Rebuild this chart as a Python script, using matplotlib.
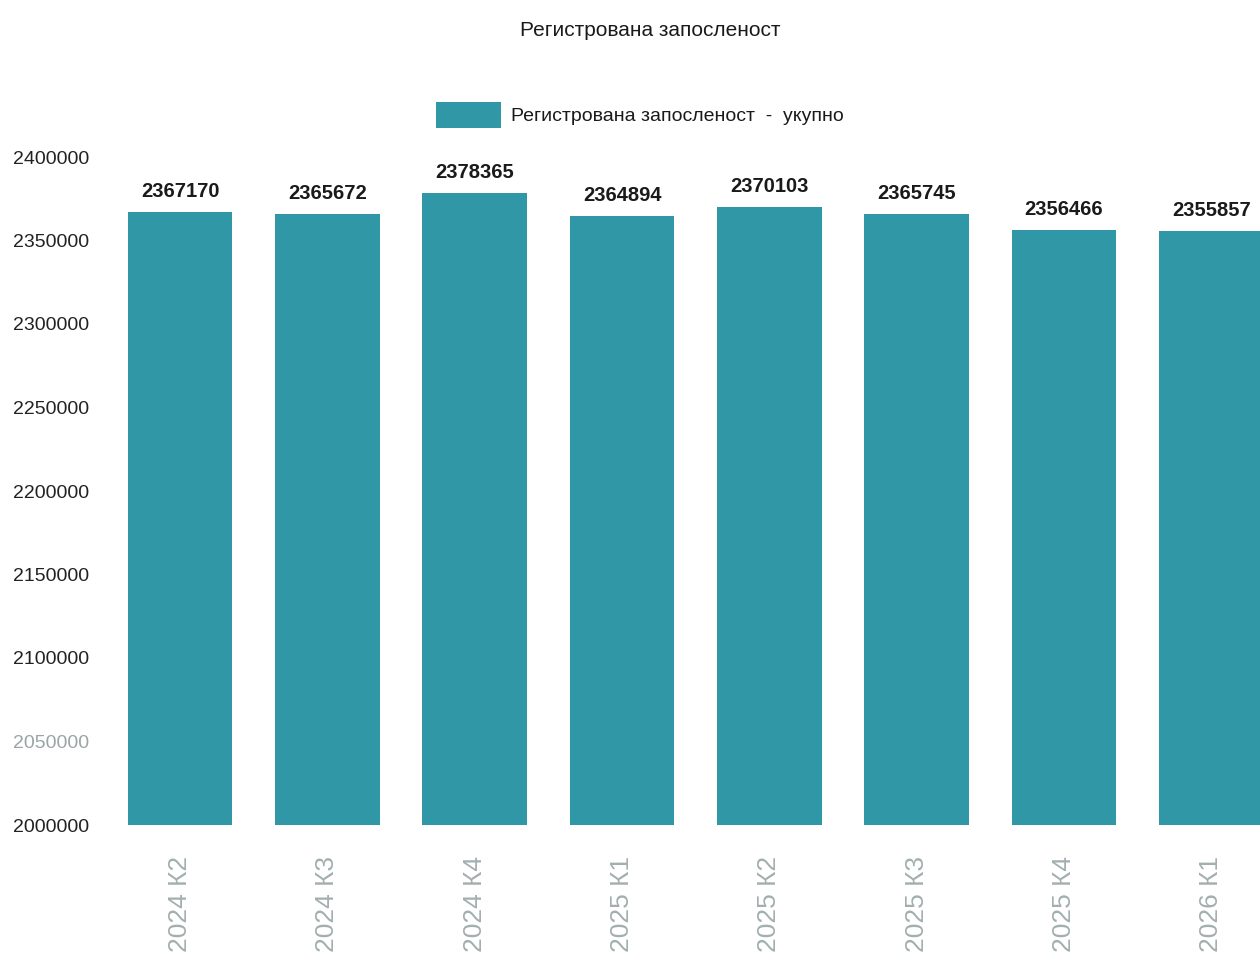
import matplotlib
matplotlib.use("Agg")
import matplotlib.pyplot as plt
import numpy as np

categories = ["2024 К2", "2024 К3", "2024 К4", "2025 К1",
              "2025 К2", "2025 К3", "2025 К4", "2026 К1"]
values = [2367170, 2365672, 2378365, 2364894,
          2370103, 2365745, 2356466, 2355857]
y_ticks = [2000000, 2050000, 2100000, 2150000,
           2200000, 2250000, 2300000, 2350000, 2400000]

title = "Регистрована запосленост"
series_name = "Регистрована запосленост  -  укупно"

bar_color = "#2f97a5"
plt.rcParams["font.family"] = ["Liberation Sans", "DejaVu Sans"]

fig = plt.figure(figsize=(12.6, 9.64), dpi=100)
ax = fig.add_axes([100 / 1260, (964 - 825) / 964, 1160 / 1260, 668 / 964])

x = np.arange(len(categories))
bars = ax.bar(x, values, width=0.71, color=bar_color, label=series_name)

ax.set_ylim(2000000, 2400000)
ax.set_xlim(-0.543, 7.33)
ax.set_yticks(y_ticks)
ax.set_yticklabels([str(v) for v in y_ticks], fontsize=14, color="#222222")
ax.get_yticklabels()[1].set_color("#9aa5a5")
ax.tick_params(axis="y", length=0, pad=8)

ax.set_xticks(x)
ax.set_xticklabels(categories, rotation=90, fontsize=19, color="#a3afaf")
ax.tick_params(axis="x", length=0, pad=22)

for s in ax.spines.values():
    s.set_visible(False)

for xi, v in zip(x, values):
    ax.annotate(str(v), (xi, v), xytext=(0, 8), textcoords="offset points",
                ha="center", va="bottom", fontsize=14.5, fontweight="bold",
                color="#1a1a1a", annotation_clip=False)

fig.text(650 / 1260, 1 - 30 / 964, title, ha="center", va="center",
         fontsize=15, color="#1a1a1a")

fig.legend(handles=[bars], labels=[series_name], loc="center",
           bbox_to_anchor=(640 / 1260, 1 - 115 / 964), frameon=False,
           fontsize=14, handlelength=3.35, handleheight=1.7,
           handletextpad=0.5, labelcolor="#1a1a1a")

fig.savefig("out.png", dpi=100)
